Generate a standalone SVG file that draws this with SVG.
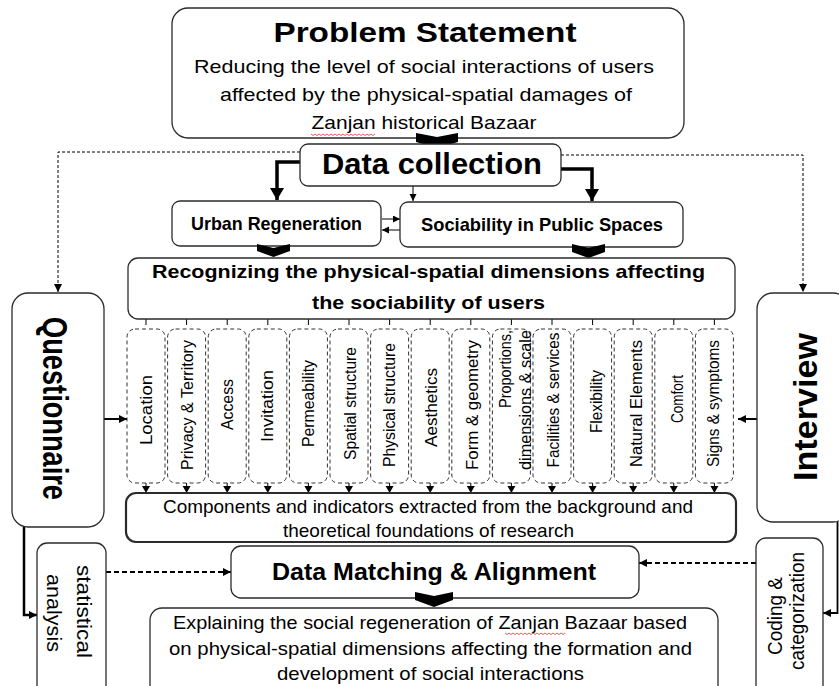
<svg xmlns="http://www.w3.org/2000/svg" width="839" height="686" viewBox="0 0 839 686">
<style>
.box{fill:#fff;stroke:#2b2b2b;stroke-width:1.3}
.dbox{fill:#fff;stroke:#333;stroke-width:1;stroke-dasharray:4 3}
.t{font-family:"Liberation Sans",Arial,sans-serif;fill:#000;text-anchor:middle}
.b{font-weight:bold}
.col{font-family:"Liberation Sans",Arial,sans-serif;font-size:16px;fill:#000;text-anchor:middle}
.ln{fill:none;stroke:#000}
.chev{fill:#000}
.sq{fill:none;stroke:#e03030;stroke-width:0.8}
</style>
<defs>
<marker id="ah" markerUnits="userSpaceOnUse" markerWidth="9" markerHeight="9" refX="8" refY="4" orient="auto"><path d="M0,0 L8,4 L0,8 z" fill="#000"/></marker>
<marker id="ahL" markerUnits="userSpaceOnUse" markerWidth="15" markerHeight="15" refX="12" refY="7" orient="auto"><path d="M0,0 L12,7 L0,14 z" fill="#000"/></marker>
<marker id="ahS" markerUnits="userSpaceOnUse" markerWidth="8" markerHeight="8" refX="7" refY="3.5" orient="auto"><path d="M0,0 L7,3.5 L0,7 z" fill="#000"/></marker>
<g id="dn"><path d="M0,-10 V-6" stroke="#000" stroke-width="1"/><path d="M-4,-7 L4,-7 L0,0 z" fill="#000"/></g>
</defs>

<g id="connectors">
<path class="ln" d="M300,152 H58 V292" stroke-width="1" stroke-dasharray="3 2" marker-end="url(#ah)"/>
<path class="ln" d="M561,155 H803 V292" stroke-width="1" stroke-dasharray="3 2" marker-end="url(#ah)"/>
<path class="ln" d="M300,162 H277 V200" stroke-width="3.5" marker-end="url(#ahL)"/>
<path class="ln" d="M561,169 H592 V201" stroke-width="3.5" marker-end="url(#ahL)"/>
<path class="ln" d="M413,186 V201" stroke-width="1" marker-end="url(#ahS)"/>
<path class="ln" d="M382,219 H400" stroke-width="1" marker-end="url(#ahS)"/>
<path class="ln" d="M400,230 H382" stroke-width="1" marker-end="url(#ahS)"/>
<path class="ln" d="M104,419 H127" stroke-width="2" marker-end="url(#ah)"/>
<path class="ln" d="M757,419 H738" stroke-width="2" marker-end="url(#ah)"/>
<path class="ln" d="M24,527 V615 H37" stroke-width="2.5" marker-end="url(#ah)"/>
<path class="ln" d="M106,572 H231" stroke-width="2" stroke-dasharray="5 3" marker-end="url(#ah)"/>
<path class="ln" d="M756,563 H639" stroke-width="2" stroke-dasharray="5 3" marker-end="url(#ah)"/>
<path class="ln" d="M837.5,522 V613 H823" stroke-width="1.8" marker-end="url(#ah)"/>
<path class="ln" stroke-width="1" d="M146,319 V325 M186.6,319 V325 M227.2,319 V325 M267.8,319 V325 M308.4,319 V325 M349,319 V325 M389.6,319 V325 M430.2,319 V325 M470.8,319 V325 M511.4,319 V325 M552,319 V325 M592.6,319 V325 M633.2,319 V325 M673.8,319 V325 M714.4,319 V325"/>
<use href="#dn" x="146" y="493"/>
<use href="#dn" x="186.6" y="493"/>
<use href="#dn" x="227.2" y="493"/>
<use href="#dn" x="267.8" y="493"/>
<use href="#dn" x="308.4" y="493"/>
<use href="#dn" x="349" y="493"/>
<use href="#dn" x="389.6" y="493"/>
<use href="#dn" x="430.2" y="493"/>
<use href="#dn" x="470.8" y="493"/>
<use href="#dn" x="511.4" y="493"/>
<use href="#dn" x="552" y="493"/>
<use href="#dn" x="592.6" y="493"/>
<use href="#dn" x="633.2" y="493"/>
<use href="#dn" x="673.8" y="493"/>
<use href="#dn" x="714.4" y="493"/>
</g>

<g id="problem">
<rect class="box" x="172" y="8" width="512" height="130" rx="16"/>
<text class="t b" x="425" y="42" font-size="28.5" textLength="303" lengthAdjust="spacingAndGlyphs">Problem Statement</text>
<text class="t" x="424" y="73" font-size="19" textLength="460" lengthAdjust="spacingAndGlyphs">Reducing the level of social interactions of users</text>
<text class="t" x="426" y="101" font-size="19" textLength="412" lengthAdjust="spacingAndGlyphs">affected by the physical-spatial damages of</text>
<text class="t" x="424" y="129" font-size="19" textLength="225" lengthAdjust="spacingAndGlyphs">Zanjan historical Bazaar</text>
<path class="sq" d="M311,134 l2,1.5 l2,-1.5 l2,1.5 l2,-1.5 l2,1.5 l2,-1.5 l2,1.5 l2,-1.5 l2,1.5 l2,-1.5 l2,1.5 l2,-1.5 l2,1.5 l2,-1.5 l2,1.5 l2,-1.5 l2,1.5 l2,-1.5 l2,1.5 l2,-1.5 l2,1.5 l2,-1.5 l2,1.5 l2,-1.5 l2,1.5 l2,-1.5 l2,1.5 l2,-1.5 l2,1.5 l2,-1.5 l2,1.5 l2,-1.5"/>
</g>
<path class="chev" d="M416,133 L437,137 L458,133 L458,142 L437,148 L416,142 z"/>

<g id="datacollection">
<rect class="box" x="300" y="144" width="261" height="42" rx="8"/>
<text class="t b" x="432" y="174" font-size="29" textLength="220" lengthAdjust="spacingAndGlyphs">Data collection</text>
</g>

<g id="urban">
<rect class="box" x="172" y="201" width="209" height="45" rx="8"/>
<text class="t b" x="276.5" y="230" font-size="19" textLength="171" lengthAdjust="spacingAndGlyphs">Urban Regeneration</text>
</g>
<g id="sociability">
<rect class="box" x="400" y="202" width="283" height="45" rx="8"/>
<text class="t b" x="542" y="231" font-size="19" textLength="242" lengthAdjust="spacingAndGlyphs">Sociability in Public Spaces</text>
</g>
<path class="chev" d="M257,244 L273.5,248 L290,244 L290,251 L273.5,257 L257,251 z"/>
<path class="chev" d="M572,244 L588.5,248 L605,244 L605,252 L588.5,258 L572,252 z"/>

<g id="recognizing">
<rect class="box" x="128" y="258" width="607" height="61" rx="10"/>
<text class="t b" x="428.5" y="278" font-size="19" textLength="553" lengthAdjust="spacingAndGlyphs">Recognizing the physical-spatial dimensions affecting</text>
<text class="t b" x="428.5" y="309" font-size="19" textLength="233" lengthAdjust="spacingAndGlyphs">the sociability of users</text>
</g>

<g id="columns">
<rect class="dbox" x="127" y="329" width="38" height="154" rx="8"/>
<rect class="dbox" x="167.6" y="329" width="38" height="154" rx="8"/>
<rect class="dbox" x="208.2" y="329" width="38" height="154" rx="8"/>
<rect class="dbox" x="248.8" y="329" width="38" height="154" rx="8"/>
<rect class="dbox" x="289.4" y="329" width="38" height="154" rx="8"/>
<rect class="dbox" x="330" y="329" width="38" height="154" rx="8"/>
<rect class="dbox" x="370.6" y="329" width="38" height="154" rx="8"/>
<rect class="dbox" x="411.2" y="329" width="38" height="154" rx="8"/>
<rect class="dbox" x="451.8" y="329" width="38" height="154" rx="8"/>
<rect class="dbox" x="492.4" y="329" width="38" height="154" rx="8"/>
<rect class="dbox" x="533" y="329" width="38" height="154" rx="8"/>
<rect class="dbox" x="573.6" y="329" width="38" height="154" rx="8"/>
<rect class="dbox" x="614.2" y="329" width="38" height="154" rx="8"/>
<rect class="dbox" x="654.8" y="329" width="38" height="154" rx="8"/>
<rect class="dbox" x="695.4" y="329" width="38" height="154" rx="8"/>
<text class="col" transform="translate(152,410) rotate(-90)" textLength="70" lengthAdjust="spacingAndGlyphs">Location</text>
<text class="col" transform="translate(193,405) rotate(-90)" textLength="130" lengthAdjust="spacingAndGlyphs">Privacy &amp; Territory</text>
<text class="col" transform="translate(233,404.5) rotate(-90)" textLength="51" lengthAdjust="spacingAndGlyphs">Access</text>
<text class="col" transform="translate(273,406) rotate(-90)" textLength="72" lengthAdjust="spacingAndGlyphs">Invitation</text>
<text class="col" transform="translate(314,403.5) rotate(-90)" textLength="87" lengthAdjust="spacingAndGlyphs">Permeability</text>
<text class="col" transform="translate(356,403.5) rotate(-90)" textLength="113" lengthAdjust="spacingAndGlyphs">Spatial structure</text>
<text class="col" transform="translate(395,405) rotate(-90)" textLength="124" lengthAdjust="spacingAndGlyphs">Physical structure</text>
<text class="col" transform="translate(437,407.5) rotate(-90)" textLength="79" lengthAdjust="spacingAndGlyphs">Aesthetics</text>
<text class="col" transform="translate(478,405) rotate(-90)" textLength="130" lengthAdjust="spacingAndGlyphs">Form &amp; geometry</text>
<text class="col" transform="translate(511,330) rotate(-90)" style="text-anchor:end" textLength="78" lengthAdjust="spacingAndGlyphs">Proportions,</text>
<text class="col" transform="translate(531,330) rotate(-90)" style="text-anchor:end" textLength="140" lengthAdjust="spacingAndGlyphs">dimensions &amp; scale</text>
<text class="col" transform="translate(559,400) rotate(-90)" textLength="135" lengthAdjust="spacingAndGlyphs">Facilities &amp; services</text>
<text class="col" transform="translate(602,401.5) rotate(-90)" textLength="63" lengthAdjust="spacingAndGlyphs">Flexibility</text>
<text class="col" transform="translate(642,403.5) rotate(-90)" textLength="127" lengthAdjust="spacingAndGlyphs">Natural Elements</text>
<text class="col" transform="translate(683,399) rotate(-90)" textLength="48" lengthAdjust="spacingAndGlyphs">Comfort</text>
<text class="col" transform="translate(719,403.5) rotate(-90)" textLength="127" lengthAdjust="spacingAndGlyphs">Signs &amp; symptoms</text>
</g>

<g id="components">
<rect class="box" x="126" y="493" width="610" height="49" rx="10" style="stroke-width:2.2"/>
<text class="t" x="428" y="513" font-size="19" textLength="530" lengthAdjust="spacingAndGlyphs">Components and indicators extracted from the background and</text>
<text class="t" x="428.5" y="537" font-size="19" textLength="291" lengthAdjust="spacingAndGlyphs">theoretical foundations of research</text>
</g>

<g id="matching">
<rect class="box" x="231" y="546" width="408" height="52" rx="10"/>
<text class="t b" x="434" y="580" font-size="24" textLength="324" lengthAdjust="spacingAndGlyphs">Data Matching &amp; Alignment</text>
</g>
<path class="chev" d="M415,592 L434,596 L453,592 L453,600 L434,607 L415,600 z"/>

<g id="explaining">
<rect class="box" x="150" y="608" width="568" height="95" rx="12"/>
<text class="t" x="430" y="629" font-size="19" textLength="514" lengthAdjust="spacingAndGlyphs">Explaining the social regeneration of Zanjan Bazaar based</text>
<text class="t" x="430.5" y="654.5" font-size="19" textLength="523" lengthAdjust="spacingAndGlyphs">on physical-spatial dimensions affecting the formation and</text>
<text class="t" x="430.5" y="680" font-size="19" textLength="307" lengthAdjust="spacingAndGlyphs">development of social interactions</text>
<path class="sq" d="M505,633 l2,1.5 l2,-1.5 l2,1.5 l2,-1.5 l2,1.5 l2,-1.5 l2,1.5 l2,-1.5 l2,1.5 l2,-1.5 l2,1.5 l2,-1.5 l2,1.5 l2,-1.5 l2,1.5 l2,-1.5 l2,1.5 l2,-1.5 l2,1.5 l2,-1.5 l2,1.5 l2,-1.5 l2,1.5 l2,-1.5 l2,1.5 l2,-1.5 l2,1.5 l2,-1.5 l2,1.5 l2,-1.5"/>
</g>

<g id="questionnaire">
<rect class="box" x="12" y="293" width="92" height="234" rx="16"/>
<text class="t b" transform="translate(43,408.5) rotate(90)" font-size="35" textLength="183" lengthAdjust="spacingAndGlyphs">Questionnaire</text>
</g>

<g id="statistical">
<rect class="box" x="37" y="543" width="69" height="160" rx="10"/>
<text class="t" transform="translate(77,611.5) rotate(90)" font-size="20" textLength="93" lengthAdjust="spacingAndGlyphs">statistical</text>
<text class="t" transform="translate(47,613) rotate(90)" font-size="20" textLength="78" lengthAdjust="spacingAndGlyphs">analysis</text>
</g>

<g id="interview">
<rect class="box" x="757" y="293" width="92" height="229" rx="16"/>
<text class="t b" transform="translate(817,407) rotate(-90)" font-size="33" textLength="148" lengthAdjust="spacingAndGlyphs">Interview</text>
</g>

<g id="coding">
<rect class="box" x="756" y="538" width="67" height="160" rx="10"/>
<text class="t" transform="translate(782,616) rotate(-90)" font-size="20" textLength="78" lengthAdjust="spacingAndGlyphs">Coding &amp;</text>
<text class="t" transform="translate(804,611) rotate(-90)" font-size="20" textLength="118" lengthAdjust="spacingAndGlyphs">categorization</text>
</g>
</svg>
